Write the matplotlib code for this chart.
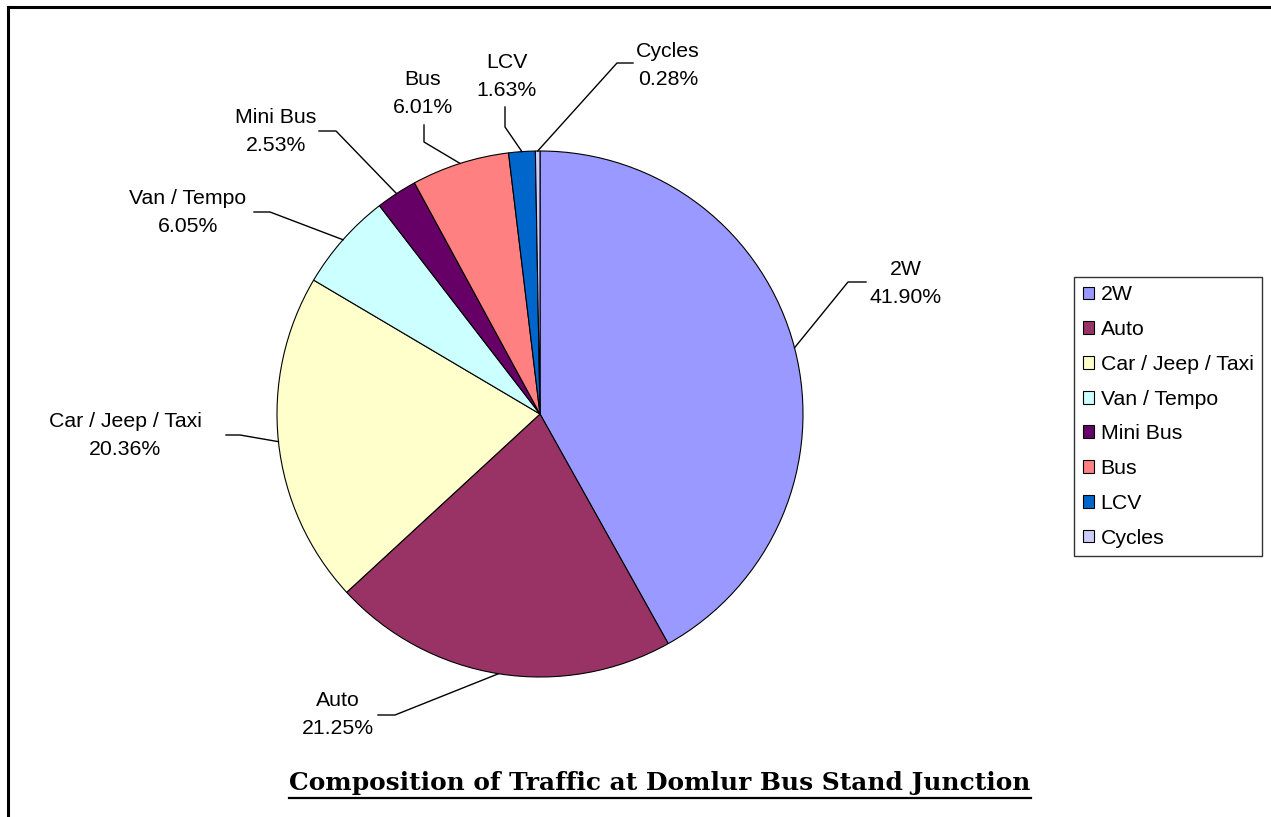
import numpy as np
import matplotlib.pyplot as plt

plt.rcParams['font.family'] = ['Liberation Sans', 'DejaVu Sans']

categories = ['2W', 'Auto', 'Car / Jeep / Taxi', 'Van / Tempo', 'Mini Bus', 'Bus', 'LCV', 'Cycles']
shares = [41.90, 21.25, 20.36, 6.05, 2.53, 6.01, 1.63, 0.28]
colors = ['#9999FF', '#993366', '#FFFFCC', '#CCFFFF', '#660066', '#FF8080', '#0066CC', '#CCCCFF']
title = 'Composition of Traffic at Domlur Bus Stand Junction'

W, H = 1271, 817
fig = plt.figure(figsize=(W / 100, H / 100), dpi=100)
ax = fig.add_axes([0, 0, 1, 1])

# pie centre / radius in pixel units (y up)
cx, cy, r = 540, H - 414, 263
wedges, _ = ax.pie(shares, colors=colors, startangle=90, counterclock=False,
                   center=(cx, cy), radius=r,
                   wedgeprops=dict(edgecolor='black', linewidth=0.8))
ax.set_xlim(0, W)
ax.set_ylim(0, H)
ax.set_aspect('equal')
ax.axis('off')

# label text centre, leader elbow, leader end (pixels from top-left)
label_xy = [(906, 283), (338, 715), (125, 435), (188, 212),
            (276, 131), (423, 93), (507, 76), (668, 65)]
elbow_xy = [(848, 282), (395, 715), (240, 435), (270, 212),
            (336, 131), (424, 142), (505, 127), (617, 63)]
end_xy = [(866, 282), (378, 715), (226, 435), (254, 212),
          (319, 131), (424, 125), (505, 107), (633, 63)]

for w, cat, val, (tx, ty), (ex, ey), (lx, ly) in zip(wedges, categories, shares,
                                                     label_xy, elbow_xy, end_xy):
    mid = np.deg2rad((w.theta1 + w.theta2) / 2)
    px, py = cx + r * np.cos(mid), cy + r * np.sin(mid)
    ax.plot([px, ex, lx], [py, H - ey, H - ly], color='black', lw=1.0)
    ax.text(tx, H - ty, f'{cat}\n{val:.2f}%', ha='center', va='center',
            fontsize=15.3, linespacing=1.6)

leg = ax.legend(wedges, categories, loc='upper left',
                bbox_to_anchor=(1074 / W, 1 - 277 / H), bbox_transform=fig.transFigure,
                borderaxespad=0, frameon=True, fancybox=False, edgecolor='black',
                fontsize=15.3, handlelength=0.55, handleheight=0.55,
                handletextpad=0.3, labelspacing=0.74, borderpad=0.4)
leg.get_frame().set_linewidth(1.0)

# title, scaled to the reference width, underlined
t = ax.text(660, H - 783, title, ha='center', va='center', fontsize=17,
            fontweight='bold', family='DejaVu Serif')
fig.canvas.draw()
bb = t.get_window_extent()
t.set_fontsize(17 * 740 / bb.width)
fig.canvas.draw()
bb = t.get_window_extent()
ax.plot([bb.x0, bb.x1], [H - 798, H - 798], color='black', lw=1.6)

# page frame (top and left edges)
ax.plot([8, W], [H - 7, H - 7], color='black', lw=2.2, clip_on=False)
ax.plot([8, 8], [H - 7, 0], color='black', lw=2.2, clip_on=False)

fig.savefig('out.png', dpi=100)
